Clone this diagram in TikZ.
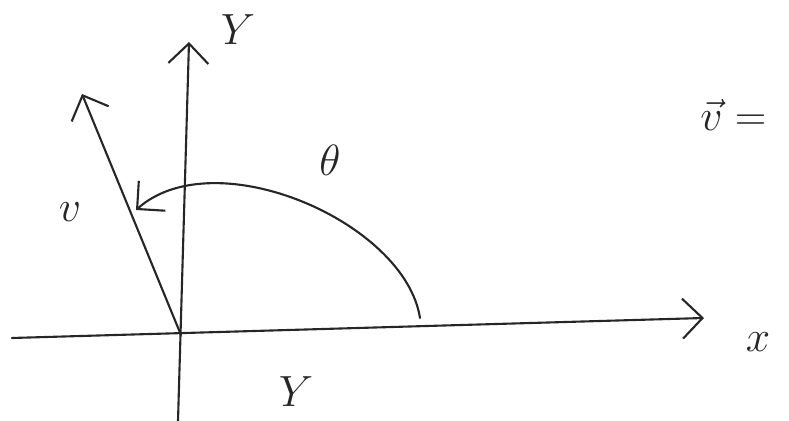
\documentclass[tikz,border=0pt]{standalone}
\usepackage{tikz}
\usetikzlibrary{positioning,arrows.meta}

\begin{document}
\begin{tikzpicture}[x=0.02cm, y=-0.02cm,
    pen/.style={line width=1.2pt, line cap=round, draw=black!85},
    arr/.style={pen, -{Straight Barb[length=4mm, width=8mm, line width=1.2pt]}},
    lbl/.style={font=\fontsize{26}{28}\selectfont, text=black!85, inner sep=0pt}]
  \useasboundingbox (0,0) rectangle (789,421);

  % axes and the vector
  \coordinate (O)    at (181,335);
  \coordinate (xlo)  at (12,338);
  \coordinate (xhi)  at (704,318);
  \coordinate (ylo)  at (178,421);
  \coordinate (yhi)  at (189,42);
  \coordinate (vtip) at (82,94);
  \coordinate (th0)  at (420,318);
  \coordinate (th1)  at (136,210);

  \draw[arr] (xlo) -- (xhi);
  \draw[arr] (ylo) -- (yhi);
  \draw[arr] (O) -- (vtip);
  \draw[arr] (th0) .. controls (405,222) and (215,140) .. (th1);

  % labels
  \node[lbl] (ylab)  at (238,30)  {$Y$};
  \node[lbl] (xlab)  at (758,342) {$x$};
  \node[lbl] (vlab)  at (70,212)  {$v$};
  \node[lbl] (thlab) at (330,160) {$\theta$};
  \node[lbl, font=\fontsize{32}{34}\selectfont, anchor=west] (vec) at (700,115) {$\vec{v} =$};
  \node[lbl] (bot)   at (296,392) {$Y$};
\end{tikzpicture}
\end{document}
